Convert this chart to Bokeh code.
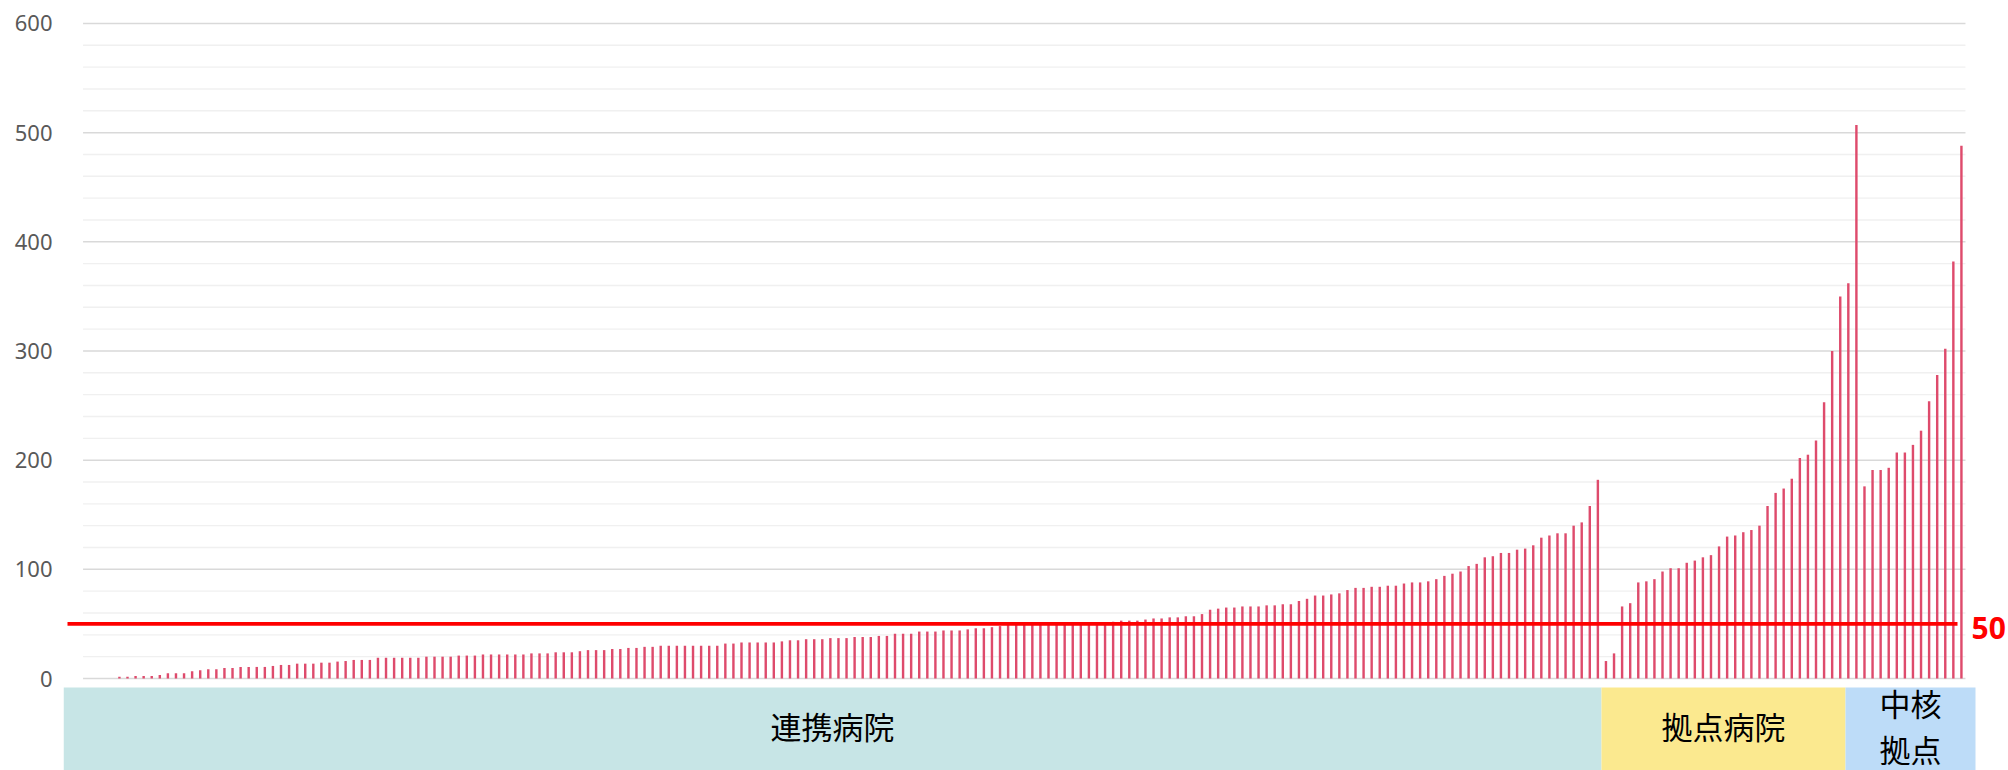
from bokeh.plotting import figure
from bokeh.models import Range1d, FixedTicker
from bokeh.embed import file_html
from bokeh.resources import INLINE
from bokeh.core.properties import value

# ---------------- data ----------------
group_names = ["連携病院", "拠点病院", "中核\n拠点"]

renkei = [0, 0, 0, 0,
          1.5, 1.5, 2.4, 2.4, 2.4, 3.3, 4.8, 4.8, 4.8, 6.7, 7.6, 8.5, 8.5, 9.7, 9.7,
          10.6, 10.6, 10.6, 10.6, 11.5, 12.4, 12.4, 13.6, 13.6, 13.6, 14.5, 14.5, 15.5,
          16, 17, 17, 17, 19, 19, 19, 19, 19, 19, 20, 20, 20, 20, 21, 21, 21, 22, 22, 22,
          22, 22, 22, 23, 23, 23, 24, 24, 24, 25, 26, 26,
          26, 27, 27, 28, 28, 29, 29, 30, 30, 30, 30, 30, 30, 30, 30, 32, 32, 33, 33, 33,
          33, 33, 34, 35, 35, 36, 36, 36, 37, 37, 37, 38,
          38, 38, 39, 39, 41, 41, 41, 43, 43, 43, 44, 44, 44, 45, 46, 46, 47, 48,
          49, 49, 49, 49, 50, 50, 50, 50, 50, 50, 51, 51, 51,
          52, 53, 53, 53, 54, 55, 55, 56, 56, 57, 57, 59, 63, 64, 65, 65, 66, 66, 66, 67,
          67, 68, 68, 71, 73, 76, 76, 77, 78, 81, 83, 83, 84, 84, 85, 85, 87, 88, 88, 89,
          91, 94, 96, 98, 103, 105, 111, 112, 115, 115, 118, 119, 122, 129, 131, 133, 133,
          140, 143, 158, 182]

kyoten = [16, 23, 66, 69, 88, 89, 91, 98, 101, 101, 106, 108, 111, 113, 121, 130,
          131, 134, 136, 140, 158, 170, 174, 183, 202, 205, 218, 253, 300, 350, 362, 507]

chukaku = [176, 191, 191, 193, 207, 207, 214, 227, 254, 278, 302, 382, 488]

threshold = 50
y_ticks = [0, 100, 200, 300, 400, 500, 600]
minor_ticks = [v for v in range(20, 600, 20) if v % 100 != 0]

values = renkei + kyoten + chukaku
N = len(values)
idx = list(range(N))

# ---------------- layout helpers (page pixels -> data) ----------------
X0_PX, DX_PX = 86.6, 8.079
Y0_PX, PX_PER_UNIT = 678.0, 1.0917
W, H = 2008, 770
FRAME_L, FRAME_T = 63, 18


def px_to_x(px):
    return (px - X0_PX) / DX_PX


def py_to_y(py):
    return (Y0_PX - py) / PX_PER_UNIT


p = figure(width=W, height=H, output_backend="svg", toolbar_location=None,
           x_range=Range1d(px_to_x(FRAME_L), px_to_x(W)),
           y_range=Range1d(py_to_y(H), py_to_y(FRAME_T)),
           x_axis_location=None,
           min_border_left=FRAME_L, min_border_right=0,
           min_border_top=FRAME_T, min_border_bottom=0)
p.outline_line_color = None
p.background_fill_color = "white"
p.grid.visible = False

ax = p.yaxis[0]
ax.ticker = FixedTicker(ticks=y_ticks)
ax.axis_line_color = None
ax.major_tick_line_color = None
ax.minor_tick_line_color = None
ax.major_tick_out = 0
ax.major_tick_in = 0
ax.major_label_standoff = 11
ax.major_label_text_font = "Noto Sans"
ax.major_label_text_font_size = "22px"
ax.major_label_text_color = "#595959"

# grid lines
p.segment(x0=-0.5, x1=N - 0.5, y0=minor_ticks, y1=minor_ticks,
          line_color="#f0f0f0", line_width=1.4)
p.segment(x0=-0.5, x1=N - 0.5, y0=y_ticks, y1=y_ticks,
          line_color="#d9d9d9", line_width=1.5)

# bars
p.vbar(x=idx, top=values, bottom=0, width=0.3,
       fill_color="#de4b6c", line_color=None)

# threshold line & label
p.segment(x0=[px_to_x(67)], x1=[px_to_x(1957)], y0=[threshold], y1=[threshold],
          line_color="#ff0000", line_width=3.6)
p.text(x=[px_to_x(1971)], y=[py_to_y(627)], text=[str(threshold)],
       text_align="left", text_baseline="middle",
       text_font=value("Noto Sans"), text_font_style="bold",
       text_font_size="30px", text_color="#ff0000")

# group bands below the chart
band_edges_px = [63, 1601, 1845, 1975]
band_colors = ["#c7e5e6", "#fbe98f", "#bddcf8"]
lefts = [px_to_x(v) for v in band_edges_px[:-1]]
rights = [px_to_x(v) for v in band_edges_px[1:]]
p.quad(left=lefts, right=rights, top=py_to_y(687), bottom=py_to_y(H),
       fill_color=band_colors, line_color=None)
centers = [(a + b) / 2 for a, b in zip(lefts, rights)]
p.text(x=centers, y=py_to_y(725), text=group_names,
       text_align="center", text_baseline="middle",
       text_font=value("Noto Sans CJK JP"), text_font_size="31px",
       text_color="#000000", text_line_height=1.03)

open("out.html", "w").write(file_html(p, INLINE))
